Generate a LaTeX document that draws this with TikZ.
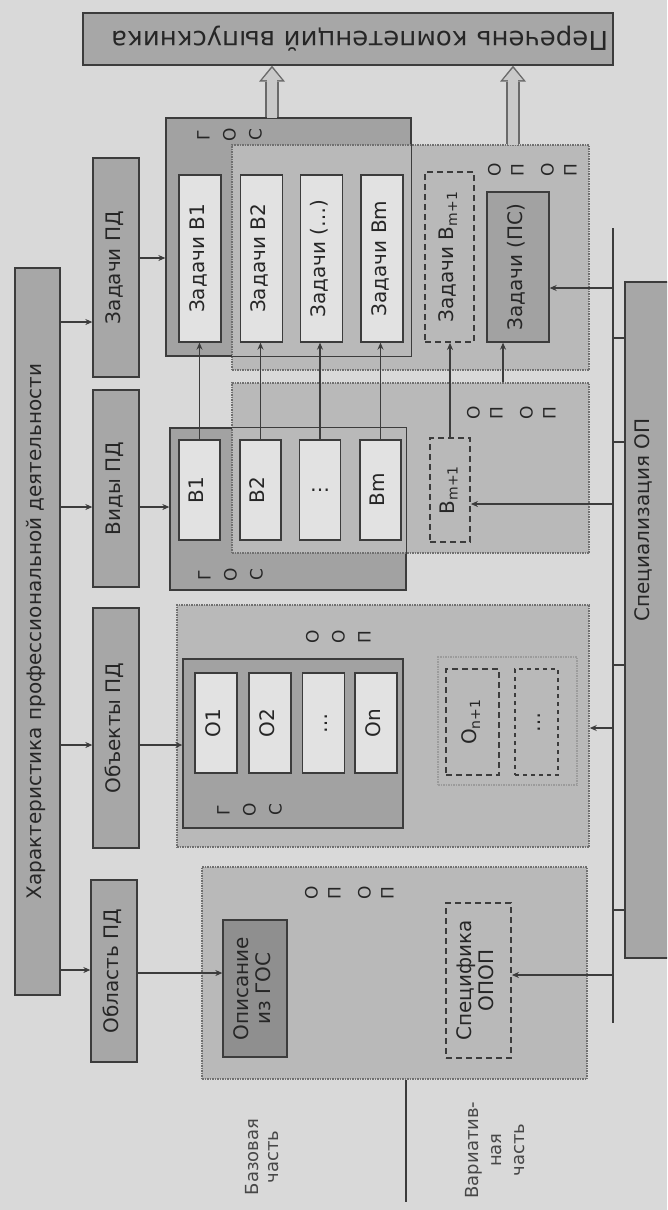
\documentclass[tikz,border=0pt]{standalone}
\usepackage{fontspec}
\setmainfont{DejaVu Sans}
\usepackage{graphicx}
\usetikzlibrary{arrows.meta,calc}
\definecolor{bg}{HTML}{D9D9D9}
\definecolor{g1}{HTML}{A7A7A7}
\definecolor{g2}{HTML}{A2A2A2}
\definecolor{g3}{HTML}{B9B9B9}
\definecolor{wh}{HTML}{E2E2E2}
\definecolor{dk}{HTML}{8F8F8F}
\definecolor{lc}{HTML}{3C3C3C}
\definecolor{dc}{HTML}{707070}
\definecolor{tc}{HTML}{262626}
\definecolor{ac}{HTML}{6A6A6A}
\definecolor{af}{HTML}{C9C9C9}
\newcommand{\rt}[1]{\rotatebox{90}{\begin{tabular}{@{}c@{}}#1\end{tabular}}}
\newcommand{\stk}[1]{\rotatebox{90}{\fontsize{17}{23}\selectfont\begin{tabular}{@{}c@{}}#1\end{tabular}}}
\tikzset{
  sz/.style 2 args={minimum width=#1pt, minimum height=#2pt},
  box/.style={draw=lc, line width=1.3pt, inner sep=0pt, text=tc, font=\fontsize{20}{22}\selectfont},
  darkbox/.style={box, fill=g1},
  gosbox/.style={box, fill=g2},
  whbox/.style={box, fill=wh},
  dotbox/.style={draw=dc, line width=1.5pt, densely dotted, fill=g3, inner sep=0pt},
  dashbox/.style={box, dash pattern=on 6pt off 4pt, line width=1.8pt},
  lab/.style={text=tc, inner sep=0pt},
  conn/.style={draw=lc, line width=1.1pt, -{Stealth[length=7pt,width=6pt]}},
  tick/.style={draw=lc, line width=1.1pt},
  hollowout/.style={draw=ac, line width=14pt, -{Triangle[length=16pt,width=26pt,line width=0pt]}},
  hollowin/.style={draw=af, line width=10pt, shorten >=2.5pt, -{Triangle[length=12pt,width=20pt,line width=0pt]}},
}
\begin{document}
\begin{tikzpicture}[x=1pt,y=-1pt]
\useasboundingbox (0,0) rectangle (667,1210);
\clip (0,0) rectangle (667,1210);
\fill[bg] (0,0) rectangle (667,1210);

% top box
\node[darkbox, sz={530}{52}, text width=520pt, align=right, font=\fontsize{26}{28}\selectfont] (top) at (348,39) {\rotatebox{180}{Перечень компетенций выпускника}};

% left column
\node[darkbox, sz={45}{727}] (har) at (37.5,631.5) {\rt{Характеристика профессиональной деятельности}};
\node[darkbox, sz={46}{219}] (zad) at (116,267.5) {\rt{Задачи ПД}};
\node[darkbox, sz={46}{197}] (vid) at (116,488.5) {\rt{Виды ПД}};
\node[darkbox, sz={46}{240}] (obj) at (116,728) {\rt{Объекты ПД}};
\node[darkbox, sz={46}{182}] (obl) at (114,971) {\rt{Область ПД}};

% --- tasks group
\node[gosbox, sz={245}{238}] (gos1) at (288.5,237) {};
\node[dotbox, sz={357}{225}] (opop1) at (410.5,257.5) {};
\draw[draw=lc, line width=1.3pt] (gos1.south west) rectangle (gos1.north east);
\node[lab] (lg1) at (231,135) {\stk{Г\\[3pt]О\\[3pt]С}};
\node[lab] (lo1) at (534,170) {\stk{О\\П\\[7pt]О\\П}};
\node[whbox, sz={42}{167}] (zb1) at (200,258.5) {\rt{Задачи В1}};
\node[whbox, sz={42}{167}] (zb2) at (261.5,258.5) {\rt{Задачи В2}};
\node[whbox, sz={42}{167}] (zb3) at (321.5,258.5) {\rt{Задачи (…)}};
\node[whbox, sz={42}{167}] (zb4) at (382,258.5) {\rt{Задачи Вm}};
\node[dashbox, sz={49}{170}] (zbm) at (449.5,257) {\rt{Задачи В\textsubscript{m+1}}};
\node[gosbox, sz={62}{150}] (zps) at (518,267) {\rt{Задачи (ПС)}};

% --- kinds group
\node[gosbox, sz={236}{162}] (gos2) at (288,509) {};
\node[dotbox, sz={357}{170}] (opop2) at (410.5,468) {};
\draw[draw=lc, line width=1.3pt] (gos2.south west) rectangle (gos2.north east);
\node[lab] (lg2) at (232,575) {\stk{Г\\[3pt]О\\[3pt]С}};
\node[lab] (lo2) at (513,413) {\stk{О\\П\\[7pt]О\\П}};
\node[whbox, sz={41}{100}] (b1) at (199.5,490) {\rt{В1}};
\node[whbox, sz={41}{100}] (b2) at (260.5,490) {\rt{В2}};
\node[whbox, sz={41}{100}] (b3) at (320,490) {…};
\node[whbox, sz={41}{100}] (b4) at (380.5,490) {\rt{Вm}};
\node[dashbox, sz={40}{104}] (bm) at (450,490) {\rt{В\textsubscript{m+1}}};

% --- objects group
\node[dotbox, sz={412}{242}] (oop) at (383,726) {};
\node[lab] (loo) at (340,637) {\stk{О\\[3pt]О\\[3pt]П}};
\node[gosbox, sz={220}{169}] (gos3) at (293,743.5) {};
\node[lab] (lg3) at (251,810) {\stk{Г\\[3pt]О\\[3pt]С}};
\node[whbox, sz={42}{100}] (o1) at (216,723) {\rt{О1}};
\node[whbox, sz={42}{100}] (o2) at (270,723) {\rt{О2}};
\node[whbox, sz={42}{100}] (o3) at (323.5,723) {\rt{…}};
\node[whbox, sz={42}{100}] (o4) at (376,723) {\rt{Оn}};
\node[dotbox, draw=dc!70, fill=none, line width=1.2pt, sz={139}{128}] (ovar) at (507.5,721) {};
\node[dashbox, sz={53}{106}] (on1) at (472.5,722) {\rt{О\textsubscript{n+1}}};
\node[dashbox, line width=1.3pt, dash pattern=on 4pt off 4pt, sz={43}{106}] (odots) at (536.5,722) {\rt{…}};

% --- area group
\node[dotbox, sz={385}{212}] (opop3) at (394.5,973) {};
\node[lab] (lo3) at (351,893) {\stk{О\\П\\[7pt]О\\П}};
\node[box, fill=dk, sz={64}{137}] (opis) at (255,988.5) {\rt{Описание\\из ГОС}};
\node[dashbox, sz={65}{155}] (spec) at (478.5,980.5) {\rt{Специфика\\ОПОП}};

% --- specialisation
\node[darkbox, sz={55}{676}] (spz) at (652.5,620) {};
\node[lab, font=\fontsize{20}{22}\selectfont] (spzt) at (645,520) {\rt{Специализация ОП}};
\coordinate (bt) at (613,228);
\coordinate (bb) at (613,1023);
\draw[tick] (bt) -- (bb);
\foreach \yy in {338,442,665,910} \draw[tick] (bt |- 0,\yy) -- (spz.west |- 0,\yy);

% --- connectors
\draw[conn] (har.east |- 0,322) -- (zad.west |- 0,322);
\draw[conn] (zad.east |- 0,258) -- (gos1.west |- 0,258);
\draw[conn] (har.east |- 0,507) -- (vid.west |- 0,507);
\draw[conn] (vid.east |- 0,507) -- (gos2.west |- 0,507);
\draw[conn] (har.east |- 0,745) -- (obj.west |- 0,745);
\draw[conn] (obj.east |- 0,745) -- (gos3.west |- 0,745);
\draw[conn] (har.east |- 0,970) -- (obl.west |- 0,970);
\draw[conn] (obl.east |- 0,973) -- (opis.west |- 0,973);
\draw[conn] (b1.north) -- (b1.north |- zb1.south);
\draw[conn] (b2.north) -- (b2.north |- zb2.south);
\draw[conn] (b3.north) -- (b3.north |- zb3.south);
\draw[conn] (b4.north) -- (b4.north |- zb4.south);
\draw[conn] (bm.north) -- (bm.north |- zbm.south);
\draw[conn] (opop2.north -| 503,0) -- (zps.south -| 503,0);
\draw[conn] (bt |- 0,288) -- (zps.east |- 0,288);
\draw[conn] (bt |- 0,504) -- (bm.east |- 0,504);
\draw[conn] (bt |- 0,728) -- (oop.east |- 0,728);
\draw[conn] (bt |- 0,975) -- (spec.east |- 0,975);

% --- hollow arrows to top box
\coordinate (a1) at (272,0);
\coordinate (a2) at (513,0);
\draw[hollowout] (gos1.north -| a1) -- (top.south -| a1);
\draw[hollowin] ($(gos1.north -| a1)+(0,1)$) -- (top.south -| a1);
\draw[hollowout] (opop1.north -| a2) -- (top.south -| a2);
\draw[hollowin] ($(opop1.north -| a2)+(0,1)$) -- (top.south -| a2);

% --- bottom part
\coordinate (dv) at (406,1202);
\draw[draw=lc, line width=1.4pt] (opop3.south -| dv) -- (dv);
\node[lab, text=tc!85, font=\fontsize{18}{20}\selectfont] (base) at (264,1157) {\rt{Базовая\\часть}};
\node[lab, text=tc!85, font=\fontsize{18}{23}\selectfont] (var) at (497,1150) {\rt{Вариатив-\\ная\\часть}};
\end{tikzpicture}
\end{document}
